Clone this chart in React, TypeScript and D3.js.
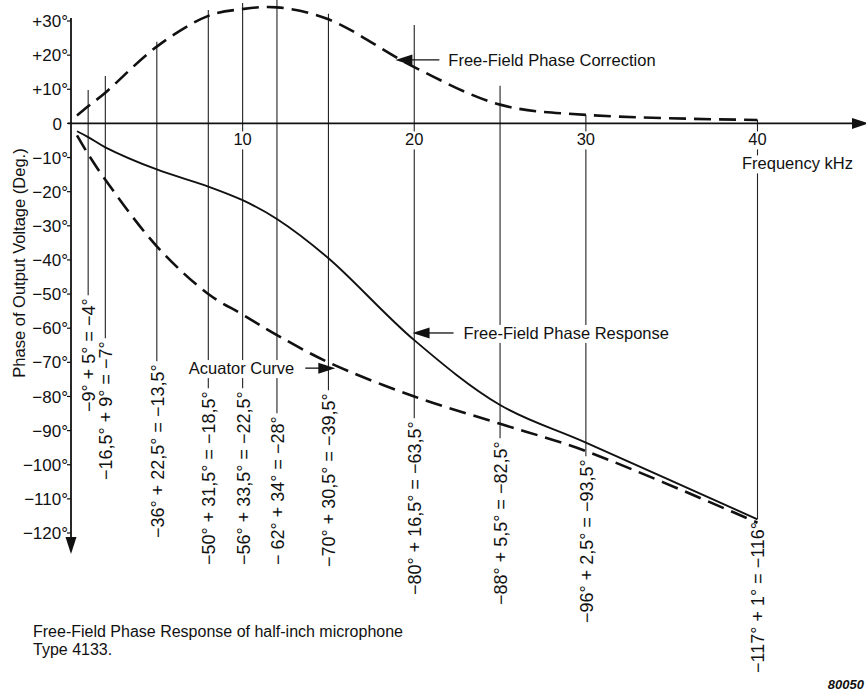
import React, { useEffect, useRef } from 'react';
import * as d3 from 'd3';

// frequencies (kHz) where the construction lines are drawn
const guideFreqs = [1, 2, 5, 8, 10, 12, 15, 20, 25, 30, 40];
// actuator curve, free-field correction and resulting free-field response (deg)
const actuatorDeg = [-9, -16.5, -36, -50, -56, -62, -70, -80, -88, -96, -117];
const correctionDeg = [5, 9, 22.5, 31.5, 33.5, 34, 30.5, 16.5, 5.5, 2.5, 1];
const responseDeg = [-4, -7, -13.5, -18.5, -22.5, -28, -39.5, -63.5, -82.5, -93.5, -116];
const guideLabels = [
  '−9° + 5° = −4°',
  '−16,5° + 9° = −7°',
  '−36° + 22,5° = −13,5°',
  '−50° + 31,5° = −18,5°',
  '−56° + 33,5° = −22,5°',
  '− 62° + 34° = −28°',
  '−70° + 30,5° = −39,5°',
  '−80° + 16,5° = −63,5°',
  '−88° + 5,5° = −82,5°',
  '−96° + 2,5° = −93,5°',
  '−117° + 1° = −116°',
];
// where the curves begin, just right of the origin
const startFreq = 0.35;
const startActuator = -3.5;
const startCorrection = 2.3;
const startResponse = -2.3;

const yTicks = [30, 20, 10, 0, -10, -20, -30, -40, -50, -60, -70, -80, -90, -100, -110, -120];
const yTickLabels = ['+30°', '+20°', '+10°', '0', '−10°', '−20°', '−30°', '−40°', '−50°', '−60°', '−70°', '−80°', '−90°', '−100°', '−110°', '−120°'];
const xTicks = [10, 20, 30, 40];

// layout of the construction lines: top end (deg) and bottom of the rotated label (px)
const guideTopDeg = [9.8, 13.9, 23.9, 33.2, 35.3, 36.2, 32.1, 28.8, 11, 2.5, 1];
const labelBottom = [412, 480, 538, 565, 565, 565, 567, 595, 605, 623, 673];

const FONT = '"Liberation Sans", Arial, Helvetica, sans-serif';

const App: React.FC = () => {
  const svgRef = useRef<SVGSVGElement>(null);

  useEffect(() => {
    if (!svgRef.current) return;
    const W = 866, H = 692;
    const svg = d3.select(svgRef.current);
    svg.selectAll('*').remove();
    svg.attr('width', W).attr('height', H).attr('viewBox', `0 0 ${W} ${H}`);
    svg.append('rect').attr('width', W).attr('height', H).attr('fill', '#fff');

    const x = d3.scaleLinear().domain([0, 40]).range([71, 757.5]);
    const y = d3.scaleLinear().domain([-120, 30]).range([533, 21]);
    const x0 = x(0), y0 = y(0);

    // construction lines + rotated labels
    const guides = svg.append('g');
    const labels = svg.append('g')
      .style('font-family', FONT).style('font-size', '18px').attr('fill', '#111');
    guideFreqs.forEach((f, i) => {
      const gx = x(f);
      const t = labels.append('text')
        .attr('transform', `translate(${gx + 1},${labelBottom[i]}) rotate(-90)`)
        .attr('dy', '0.33em')
        .text(guideLabels[i]);
      const len = (t.node() as SVGTextElement).getComputedTextLength();
      guides.append('line')
        .attr('x1', gx).attr('x2', gx)
        .attr('y1', y(guideTopDeg[i]))
        .attr('y2', labelBottom[i] - len - 3)
        .attr('stroke', '#222').attr('stroke-width', 1.1);
    });

    // axes
    const axes = svg.append('g').attr('stroke', '#111').attr('stroke-width', 1.8);
    axes.append('line').attr('x1', x0).attr('x2', x0).attr('y1', 18).attr('y2', 540);
    axes.append('path').attr('d', `M${x0 - 5.5},537 L${x0 + 5.5},537 L${x0},554 Z`)
      .attr('fill', '#111').attr('stroke', 'none');
    axes.append('line').attr('x1', x0 - 3).attr('x2', 855).attr('y1', y0).attr('y2', y0);
    axes.append('path').attr('d', `M852,${y0 - 5.5} L852,${y0 + 5.5} L869,${y0} Z`)
      .attr('fill', '#111').attr('stroke', 'none');

    yTicks.forEach((v, i) => {
      axes.append('line').attr('x1', x0 - 4).attr('x2', x0).attr('y1', y(v)).attr('y2', y(v))
        .attr('stroke-width', 1.2);
      const lab = yTickLabels[i];
      svg.append('text')
        .attr('x', lab.includes('°') ? x0 - 3 : x0 - 9)
        .attr('y', y(v)).attr('dy', '0.36em')
        .attr('text-anchor', 'end')
        .style('font-family', FONT).style('font-size', '17px').attr('fill', '#111')
        .text(lab);
    });

    // text with white backing so the construction lines break behind it
    const boxed = (tx: number, ty: number, txt: string, size: number, anchor: string) => {
      const g = svg.append('g');
      const rect = g.append('rect').attr('fill', '#fff');
      const t = g.append('text')
        .attr('x', tx).attr('y', ty).attr('text-anchor', anchor)
        .style('font-family', FONT).style('font-size', `${size}px`).attr('fill', '#111')
        .text(txt);
      const b = (t.node() as SVGTextElement).getBBox();
      rect.attr('x', b.x - 2).attr('y', b.y + 1).attr('width', b.width + 4).attr('height', b.height);
      return g;
    };

    xTicks.forEach(v => boxed(x(v), y0 + 22, String(v), 16.5, 'middle'));
    boxed(x(40) + 40, y0 + 46, 'Frequency kHz', 16.5, 'middle');

    // curves
    const pts = (vals: number[], start: number) =>
      [[startFreq, start] as [number, number], ...guideFreqs.map((f, i) => [f, vals[i]] as [number, number])];
    const line = d3.line<[number, number]>()
      .x(d => x(d[0])).y(d => y(d[1]))
      .curve(d3.curveCatmullRom.alpha(0.5));

    svg.append('path').attr('d', line(pts(correctionDeg, startCorrection)))
      .attr('fill', 'none').attr('stroke', '#111').attr('stroke-width', 2.6)
      .attr('stroke-dasharray', '17 8');
    svg.append('path').attr('d', line(pts(actuatorDeg, startActuator)))
      .attr('fill', 'none').attr('stroke', '#111').attr('stroke-width', 2.6)
      .attr('stroke-dasharray', '17 8');
    svg.append('path').attr('d', line(pts(responseDeg, startResponse)))
      .attr('fill', 'none').attr('stroke', '#111').attr('stroke-width', 1.9);

    // pointer annotations
    const annotations = [
      { text: 'Free-Field Phase Correction', freq: 18.9, deg: 18.6, side: 1, tail: 44, gap: 9 },
      { text: 'Free-Field Phase Response', freq: 19.9, deg: -61.4, side: 1, tail: 41, gap: 10 },
      { text: 'Acuator Curve', freq: 15.4, deg: -71.7, side: -1, tail: 30, gap: 11 },
    ];
    annotations.forEach(a => {
      const tx = x(a.freq), ty = y(a.deg);
      const s = a.side;
      svg.append('line')
        .attr('x1', tx + s * 12).attr('x2', tx + s * a.tail)
        .attr('y1', ty).attr('y2', ty)
        .attr('stroke', '#111').attr('stroke-width', 1.3);
      svg.append('path')
        .attr('d', `M${tx},${ty} L${tx + s * 17},${ty - 5.5} L${tx + s * 17},${ty + 5.5} Z`)
        .attr('fill', '#111');
      const g = boxed(tx + s * (a.tail + a.gap), ty, a.text, 16.5, s > 0 ? 'start' : 'end');
      g.select('text').attr('dy', '0.36em');
      const b = (g.select('text').node() as SVGTextElement).getBBox();
      g.select('rect').attr('y', b.y + 1).attr('height', b.height);
    });

    // axis title
    svg.append('text')
      .attr('transform', `translate(25,263) rotate(-90)`)
      .attr('text-anchor', 'middle')
      .style('font-family', FONT).style('font-size', '16.5px').attr('fill', '#111')
      .text('Phase of Output Voltage (Deg.)');

    // caption
    const cap = svg.append('text')
      .style('font-family', FONT).style('font-size', '16px').attr('fill', '#111');
    cap.append('tspan').attr('x', 33).attr('y', 637).text('Free-Field Phase Response of half-inch microphone');
    cap.append('tspan').attr('x', 33).attr('y', 655).text('Type 4133.');

    svg.append('text')
      .attr('x', 864).attr('y', 689).attr('text-anchor', 'end')
      .style('font-family', FONT).style('font-size', '13px')
      .style('font-weight', 'bold').style('font-style', 'italic').attr('fill', '#111')
      .text('80050');
  }, []);

  return (
    <svg ref={svgRef} style={{ position: 'absolute', left: 0, top: 0, display: 'block' }} />
  );
};

export default App;
